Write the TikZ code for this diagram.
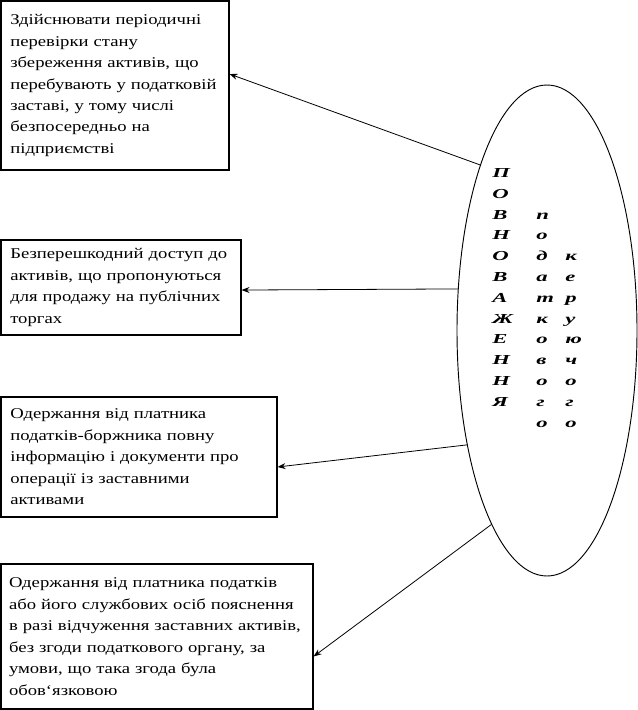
\documentclass[tikz,border=0pt]{standalone}
\usepackage{fontspec}
\setmainfont{Liberation Serif}[FakeStretch=1.25]
\newfontfamily\titlefont{Liberation Serif Bold Italic}[FakeStretch=1.65]
\usepackage{tikz}
\usetikzlibrary{shapes.geometric, arrows.meta, positioning, calc}
\tikzset{
  infobox/.style={rectangle, draw, line width=0.8pt, align=left, inner xsep=7pt, inner ysep=0pt,
    font=\fontsize{11.2pt}{16.1pt}\selectfont},
  powerell/.style={ellipse, draw, line width=0.7pt, inner sep=0pt},
  vtext/.style={inner sep=0pt, anchor=base west, font=\fontsize{10.3pt}{15.6pt}\titlefont},
  linkarrow/.style={-{Stealth[length=6pt, width=4.5pt]}, line width=0.6pt},
}

\begin{document}
\begin{tikzpicture}[x=0.75pt, y=-0.75pt]
  \useasboundingbox (0,0) rectangle (638,710);
  % boxes on the left
  \node[infobox, minimum width=171pt, minimum height=126.75pt, text width=157pt] (task1) at (115,85.5)
    {Здійснювати періодичні\\перевірки стану\\збереження активів, що\\перебувають у податковій\\заставі, у тому числі\\безпосередньо на\\підприємстві};
  \node[infobox, minimum width=180pt, minimum height=71.25pt, text width=166pt] (task2) at (121,287.5)
    {Безперешкодний доступ до\\активів, що пропонуються\\для продажу на публічних\\торгах};
  \node[infobox, minimum width=207pt, minimum height=90pt, text width=193pt] (task3) at (139,457)
    {Одержання від платника\\податків-боржника повну\\інформацію і документи про\\операції із заставними\\активами};
  \node[infobox, inner xsep=6pt, minimum width=234pt, minimum height=108.75pt, text width=222pt] (task4) at (157,636.5)
    {Одержання від платника податків\\або його службових осіб пояснення\\в~разі~відчуження~заставних~активів,\\без згоди податкового органу, за\\умови, що така згода була\\обов‘язковою};
  % ellipse with the vertical title
  \node[powerell, minimum width=135pt, minimum height=368.25pt] (powers) at (547,330.5) {};
  \node[vtext] (title) at (492,177.5) {%
    \begin{tabular}[t]{@{}p{33pt}@{}p{21.75pt}@{}l@{}}
      П & & \\
      О & & \\
      В & п & \\
      Н & о & \\
      О & д & к \\
      В & а & е \\
      А & т & р \\
      Ж & к & у \\
      Е & о & ю \\
      Н & в & ч \\
      Н & о & о \\
      Я & г & г \\
        & о & о
    \end{tabular}};
  % arrows
  \draw[linkarrow] (powers.112.6) -- ([yshift=8.6pt]task1.east);
  \draw[linkarrow] (powers.155.5) -- ([yshift=-1.9pt]task2.east);
  \draw[linkarrow] (powers.235.1) -- ([yshift=-7.5pt]task3.east);
  \draw[linkarrow] (powers.254.9) -- ([yshift=-15pt]task4.east);
\end{tikzpicture}
\end{document}
